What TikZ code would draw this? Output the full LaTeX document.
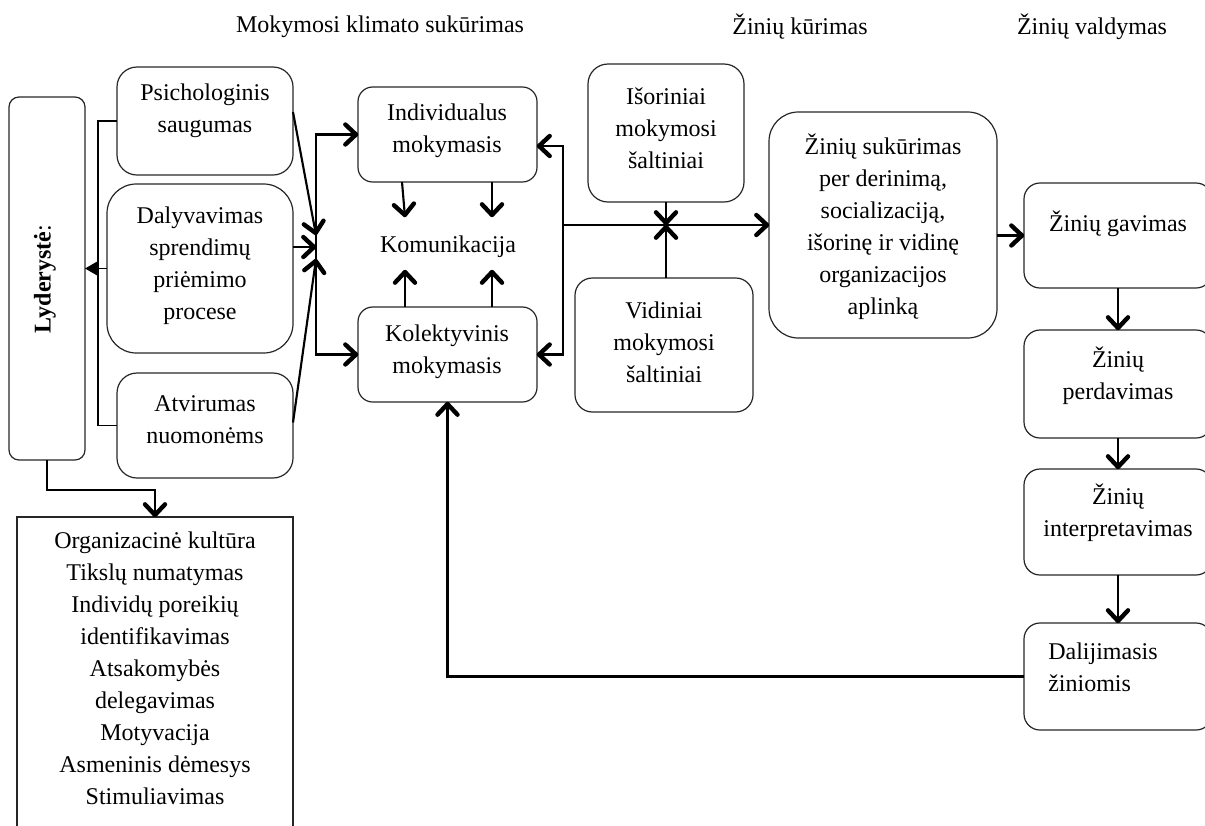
\documentclass[tikz,border=0pt]{standalone}
\usepackage{fontspec}
\setmainfont{Liberation Serif}
\usetikzlibrary{arrows.meta,fit,calc,decorations.markings}
\tikzset{
  box/.style={draw=black!85, line width=0.9pt, inner sep=0pt, outer sep=0pt},
  txt/.style={font=\fontsize{18}{24}\selectfont, align=center, inner sep=0pt},
  conn/.style={line width=1.6pt},
  arr/.style={conn, postaction={decorate}, decoration={markings,
     mark=at position 1 with {\draw[line width=3.3pt, line cap=round, line join=round]
       (-9.5pt,7.5pt) -- (-1.5pt,0pt) -- (-9.5pt,-7.5pt);}}},
  tri/.style={conn, -{Triangle[length=9pt,width=10pt]}}
}
\begin{document}
\begin{tikzpicture}[x=0.75pt,y=-0.75pt]
\useasboundingbox (0,0) rectangle (1205,825);
% titles
\node[txt] (t1) at (380,27) {Mokymosi klimato sukūrimas};
\node[txt] (t2) at (800,27) {Žinių kūrimas};
\node[txt] (t3) at (1092,27) {Žinių valdymas};
% left part
\node[box, rounded corners=7.5pt, fit={(9,97) (85,460)}] (lyd) {};
\node[txt, rotate=90] (lydT) at (45,279) {\textbf{Lyderystė}:};
\node[box, rounded corners=15pt, fit={(117,67) (293,175)}] (psy) {};
\node[txt] (psyT) at (205,111) {Psichologinis\\saugumas};
\node[box, rounded corners=22pt, fit={(107,184) (293,353)}] (dal) {};
\node[txt] (dalT) at (200,266) {Dalyvavimas\\sprendimų\\priėmimo\\procese};
\node[box, rounded corners=15pt, fit={(117,373) (293,478)}] (atv) {};
\node[txt] (atvT) at (205,420) {Atvirumas\\nuomonėms};
\node[box, fit={(17,517) (293,850)}] (org) {};
\node[txt] (orgT) at (155,668) {Organizacinė kultūra\\Tikslų numatymas\\Individų poreikių\\identifikavimas\\Atsakomybės\\delegavimas\\Motyvacija\\Asmeninis dėmesys\\Stimuliavimas};
% middle
\node[box, rounded corners=11pt, fit={(358,87) (537,182)}] (ind) {};
\node[txt] (indT) at (447,131) {Individualus\\mokymasis};
\node[box, rounded corners=11pt, fit={(358,307) (537,402)}] (kol) {};
\node[txt] (kolT) at (447,352) {Kolektyvinis\\mokymasis};
\node[txt] (kom) at (448,247) {Komunikacija};
\node[box, rounded corners=15pt, fit={(588,64) (744,202)}] (isor) {};
\node[txt] (isorT) at (666,128) {Išoriniai\\mokymosi\\šaltiniai};
\node[box, rounded corners=13pt, fit={(575,278) (753,412)}] (vid) {};
\node[txt] (vidT) at (664,342) {Vidiniai\\mokymosi\\šaltiniai};
\node[box, rounded corners=22pt, fit={(769,112) (997,338)}] (zs) {};
\node[txt] (zsT) at (883,227) {Žinių sukūrimas\\per derinimą,\\socializaciją,\\išorinę ir vidinę\\organizacijos\\aplinką};
% right column
\node[box, rounded corners=12pt, fit={(1024,183) (1212,288)}] (gav) {};
\node[txt] (gavT) at (1118,224) {Žinių gavimas};
\node[box, rounded corners=12pt, fit={(1024,330) (1212,438)}] (per) {};
\node[txt] (perT) at (1118,376) {Žinių\\perdavimas};
\node[box, rounded corners=12pt, fit={(1024,469) (1212,575)}] (inte) {};
\node[txt] (inteT) at (1118,513) {Žinių\\interpretavimas};
\node[box, rounded corners=12pt, fit={(1024,623) (1212,730)}] (dlj) {};
\node[txt, align=left, anchor=west] (dljT) at (1048,667) {Dalijimasis\\žiniomis};
% coordinates
\coordinate (cv) at (316,247);
\coordinate (rb) at (563,225);
% left bracket
\draw[conn, line width=1.3pt] (psy.west) -| (98,268) |- (atv.west);
\draw[tri, line width=1.3pt] (dal.west) -- (lyd.east |- dal.west);
\draw[arr] (lyd.south) -- ++(0,30) -| (org.north);
% convergence
\draw[arr] ($(psy.east)+(0,-9)$) -- ($(cv)+(0,-12)$);
\draw[arr] (dal.east |- cv) -- (cv);
\draw[arr] ($(atv.east)+(0,-3)$) -- ($(cv)+(0,12)$);
\draw[arr] (cv) |- (ind.west);
\draw[arr] (cv) |- (kol.west);
% komunikacija
\draw[arr] ($(ind.south)+(-45.5,0)$) -- ($(kom.center)+(-43,-30)$);
\draw[arr] ($(ind.south)+(44.5,0)$) -- ($(kom.center)+(44,-30)$);
\draw[arr] ($(kol.north)+(-42.5,0)$) -- ($(kom.center)+(-43,23)$);
\draw[arr] ($(kol.north)+(44.5,0)$) -- ($(kom.center)+(44,23)$);
% right bracket
\draw[arr] (rb) |- ($(ind.east)+(0,11.5)$);
\draw[arr] (rb) |- (kol.east);
\draw[arr] (rb) -- (zs.west);
\draw[arr] (isor.south) -- (isor.south |- rb);
\draw[arr] (vid.north -| isor.south) -- (isor.south |- rb);
% right column
\draw[arr] (zs.east |- gav.west) -- (gav.west);
\draw[arr] (gav.south) -- (per.north);
\draw[arr] (per.south) -- (inte.north);
\draw[arr] (inte.south) -- (dlj.north);
\draw[arr] (dlj.west) -| (kol.south);
\end{tikzpicture}
\end{document}
